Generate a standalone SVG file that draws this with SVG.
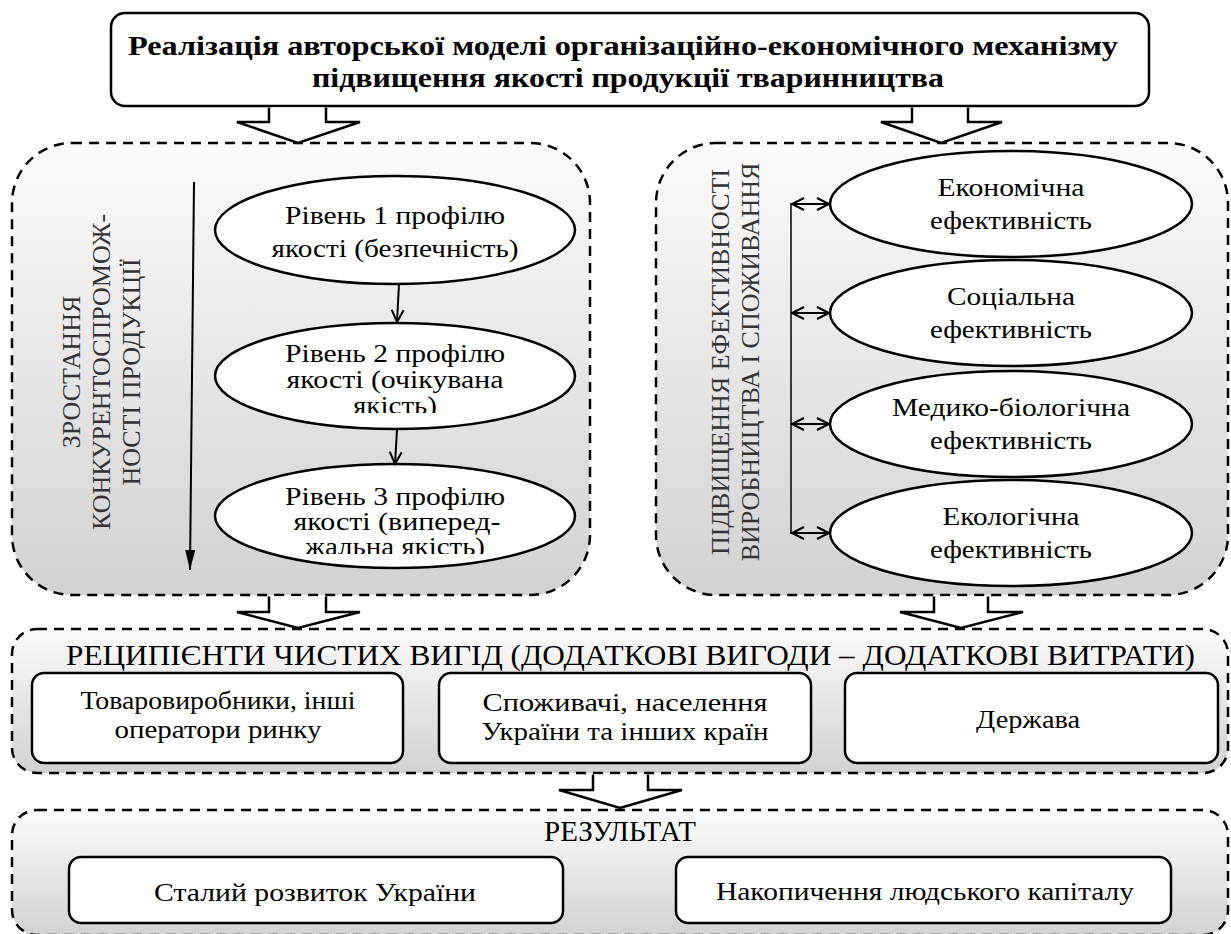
<svg xmlns="http://www.w3.org/2000/svg" width="1231" height="934" viewBox="0 0 1231 934">
<defs>
<linearGradient id="g" x1="0" y1="0" x2="0" y2="1"><stop offset="0" stop-color="#fbfbfb"/><stop offset="1" stop-color="#d2d2d2"/></linearGradient>
<marker id="open" markerUnits="userSpaceOnUse" markerWidth="14" markerHeight="14" refX="12" refY="6" orient="auto-start-reverse" overflow="visible"><path d="M0,0 L12,6 L0,12" fill="none" stroke="#000" stroke-width="2"/></marker>
<marker id="tri" markerUnits="userSpaceOnUse" markerWidth="22" markerHeight="12" refX="20" refY="5" orient="auto" overflow="visible"><path d="M0,0 L20,5 L0,10 z" fill="#000"/></marker>
<clipPath id="c2"><rect x="200" y="330" width="400" height="83"/></clipPath>
<clipPath id="c3"><rect x="200" y="470" width="400" height="84"/></clipPath>
</defs>
<style>
.t{font-family:"Liberation Serif","DejaVu Serif","Times New Roman",serif;font-size:26px;fill:#000;text-anchor:middle}
.h{font-family:"Liberation Serif","DejaVu Serif","Times New Roman",serif;font-size:28px;font-weight:bold;fill:#000}
.cap{font-family:"Liberation Serif","Times New Roman",serif;font-size:29px;fill:#000;text-anchor:middle}
.rot{font-family:"Liberation Serif","Times New Roman",serif;font-size:26px;fill:#333;text-anchor:middle}
.dash{fill:url(#g);stroke:#000;stroke-width:2.5;stroke-dasharray:10 7}
.box{fill:#fff;stroke:#000;stroke-width:2.5}
.ln{stroke:#000;stroke-width:2;fill:none}
.blk{fill:#fff;stroke:#000;stroke-width:2.5;stroke-linejoin:miter}
</style>

<g id="title">
<rect class="box" x="111" y="13" width="1038" height="93" rx="14"/>
<text class="h" x="128" y="55" textLength="990" lengthAdjust="spacingAndGlyphs">Реалізація авторської моделі організаційно-економічного механізму</text>
<text class="h" x="312" y="87" textLength="632" lengthAdjust="spacingAndGlyphs">підвищення якості продукції тваринництва</text>
</g>

<g id="panel-left">
<rect class="dash" x="12" y="143" width="578" height="452" rx="60"/>
<text class="rot" transform="translate(80,372) rotate(-90)">ЗРОСТАННЯ</text>
<text class="rot" transform="translate(110,372) rotate(-90)">КОНКУРЕНТОСПРОМОЖ-</text>
<text class="rot" transform="translate(140,372) rotate(-90)">НОСТІ ПРОДУКЦІЇ</text>
</g>

<g id="level1">
<ellipse class="box" cx="395" cy="230" rx="180" ry="54"/>
<text class="t" x="395" y="224" textLength="220" lengthAdjust="spacingAndGlyphs">Рівень 1 профілю</text>
<text class="t" x="395" y="257" textLength="247" lengthAdjust="spacingAndGlyphs">якості (безпечність)</text>
</g>

<g id="level2">
<ellipse class="box" cx="395" cy="376" rx="180" ry="53"/>
<g clip-path="url(#c2)">
<text class="t" x="395" y="362" textLength="220" lengthAdjust="spacingAndGlyphs">Рівень 2 профілю</text>
<text class="t" x="395" y="388" textLength="217" lengthAdjust="spacingAndGlyphs">якості (очікувана</text>
<text class="t" x="395" y="414" textLength="84" lengthAdjust="spacingAndGlyphs">якість)</text>
</g>
</g>

<g id="level3">
<ellipse class="box" cx="395" cy="516" rx="180" ry="52"/>
<g clip-path="url(#c3)">
<text class="t" x="395" y="505" textLength="220" lengthAdjust="spacingAndGlyphs">Рівень 3 профілю</text>
<text class="t" x="397" y="530" textLength="207" lengthAdjust="spacingAndGlyphs">якості (випе&#x440;&#x435;&#x434;-</text>
<text class="t" x="395" y="555" textLength="180" lengthAdjust="spacingAndGlyphs">жальна якість)</text>
</g>
</g>

<g id="panel-right">
<rect class="dash" x="656" y="143" width="572" height="452" rx="60"/>
<text class="rot" transform="translate(729,362) rotate(-90)">ПІДВИЩЕННЯ ЕФЕКТИВНОСТІ</text>
<text class="rot" transform="translate(759,362) rotate(-90)">ВИРОБНИЦТВА І СПОЖИВАННЯ</text>
</g>

<g id="eff-econ">
<ellipse class="box" cx="1011" cy="204" rx="181" ry="53"/>
<text class="t" x="1011" y="196" textLength="147" lengthAdjust="spacingAndGlyphs">Економічна</text>
<text class="t" x="1011" y="229" textLength="162" lengthAdjust="spacingAndGlyphs">ефективність</text>
</g>
<g id="eff-social">
<ellipse class="box" cx="1011" cy="313" rx="181" ry="53"/>
<text class="t" x="1011" y="305" textLength="128" lengthAdjust="spacingAndGlyphs">Соціальна</text>
<text class="t" x="1011" y="338" textLength="162" lengthAdjust="spacingAndGlyphs">ефективність</text>
</g>
<g id="eff-med">
<ellipse class="box" cx="1011" cy="424" rx="181" ry="53"/>
<text class="t" x="1011" y="416" textLength="238" lengthAdjust="spacingAndGlyphs">Медико-біологічна</text>
<text class="t" x="1011" y="449" textLength="162" lengthAdjust="spacingAndGlyphs">ефективність</text>
</g>
<g id="eff-eco">
<ellipse class="box" cx="1011" cy="533" rx="181" ry="53"/>
<text class="t" x="1011" y="525" textLength="137" lengthAdjust="spacingAndGlyphs">Екологічна</text>
<text class="t" x="1011" y="558" textLength="162" lengthAdjust="spacingAndGlyphs">ефективність</text>
</g>

<g id="recipients">
<rect class="dash" x="12" y="629" width="1216" height="144" rx="25"/>
<text class="cap" x="66" y="665" style="text-anchor:start;font-size:30px" textLength="1129" lengthAdjust="spacingAndGlyphs">РЕЦИПІЄНТИ ЧИСТИХ ВИГІД (ДОДАТКОВІ ВИГОДИ – ДОДАТКОВІ ВИТРАТИ)</text>
</g>
<g id="producers">
<rect class="box" x="32" y="673" width="371" height="90" rx="12"/>
<text class="t" x="218" y="709" textLength="275" lengthAdjust="spacingAndGlyphs">Товаровиробники, інші</text>
<text class="t" x="218" y="738" textLength="207" lengthAdjust="spacingAndGlyphs">оператори ринку</text>
</g>
<g id="consumers">
<rect class="box" x="439" y="673" width="372" height="90" rx="12"/>
<text class="t" x="625" y="711" textLength="285" lengthAdjust="spacingAndGlyphs">Споживачі, населення</text>
<text class="t" x="625" y="740" textLength="287" lengthAdjust="spacingAndGlyphs">України та інших країн</text>
</g>
<g id="state">
<rect class="box" x="845" y="673" width="373" height="90" rx="12"/>
<text class="t" x="1028" y="728" textLength="104" lengthAdjust="spacingAndGlyphs">Держава</text>
</g>

<g id="result">
<rect class="dash" x="12" y="810" width="1216" height="125" rx="25"/>
<text class="cap" x="620" y="841">РЕЗУЛЬТАТ</text>
</g>
<g id="sustainable">
<rect class="box" x="69" y="857" width="494" height="66" rx="12"/>
<text class="t" x="315" y="901" textLength="322" lengthAdjust="spacingAndGlyphs">Сталий розвиток України</text>
</g>
<g id="capital">
<rect class="box" x="676" y="857" width="495" height="66" rx="12"/>
<text class="t" x="925" y="900" textLength="418" lengthAdjust="spacingAndGlyphs">Накопичення людського капіталу</text>
</g>

<g id="connectors">
<path class="blk" d="M269,107.5 V122 H237 L298,143 L360,122 H326 V107.5"/>
<path class="blk" d="M912,107.5 V122 H881 L941,143 L1002,122 H968 V107.5"/>
<path class="blk" d="M269,596.5 V612 H237 L298,628 L360,612 H326 V596.5"/>
<path class="blk" d="M934,596.5 V612 H900 L961,628 L1023,612 H988 V596.5"/>
<path class="blk" d="M593,774.5 V790 H559 L620,808 L682,790 H648 V774.5"/>
<line class="ln" x1="194" y1="182" x2="190" y2="570" marker-end="url(#tri)"/>
<line class="ln" x1="399" y1="284" x2="397" y2="322" marker-end="url(#open)"/>
<line class="ln" x1="397" y1="430" x2="395" y2="464" marker-end="url(#open)"/>
<line class="ln" x1="791" y1="203" x2="791" y2="534" style="stroke-width:1.5"/>
<line class="ln" x1="792" y1="204" x2="829" y2="204" marker-start="url(#open)" marker-end="url(#open)"/>
<line class="ln" x1="792" y1="313" x2="829" y2="313" marker-start="url(#open)" marker-end="url(#open)"/>
<line class="ln" x1="792" y1="424" x2="829" y2="424" marker-start="url(#open)" marker-end="url(#open)"/>
<line class="ln" x1="792" y1="533" x2="829" y2="533" marker-start="url(#open)" marker-end="url(#open)"/>
</g>
</svg>
